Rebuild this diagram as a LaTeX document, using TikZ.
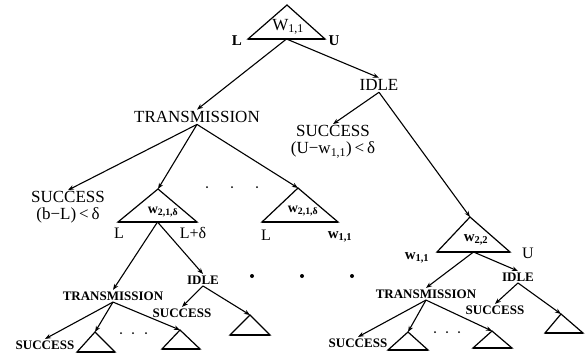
\documentclass[tikz,border=0pt]{standalone}
\usepackage{fontspec}
\setmainfont{Liberation Serif}
\usetikzlibrary{arrows.meta,calc}
\tikzset{
  big/.style={font=\fontsize{17}{18}\selectfont, inner sep=1.5pt},
  small/.style={font=\fontsize{13}{14}\selectfont\bfseries, inner sep=1.5pt},
  lbl/.style={font=\fontsize{16}{18}\selectfont, inner sep=0pt},
  blbl/.style={font=\fontsize{15}{17}\selectfont\bfseries, inner sep=0pt},
  trilbl/.style={font=\fontsize{14}{16}\selectfont\bfseries, inner sep=0pt},
  conn/.style={line width=1.1pt},
  arr/.style={conn, -{Stealth[length=6pt,width=4.5pt]}},
  tri/.style={line width=1.2pt, line join=miter},
  tribase/.style={line width=2pt},
  dot/.style={circle, fill=black, inner sep=0pt, minimum size=2pt},
  bigdot/.style={circle, fill=black, inner sep=0pt, minimum size=4pt},
}
\newcommand{\tridraw}[4]{%
  \coordinate (#1) at #2; \coordinate (#1l) at #3; \coordinate (#1r) at #4;
  \coordinate (#1b) at ($(#1l)!0.5!(#1r)$);
  \draw[tri] (#1) -- (#1l) -- (#1r) -- cycle;
  \draw[tribase] (#1l) -- (#1r);
}
\begin{document}
\begin{tikzpicture}[x=1pt,y=-1pt]
\useasboundingbox (0,0) rectangle (587,359);
% top triangle
\tridraw{tt}{(287,5)}{(248,39)}{(325,39)}
\node[lbl, font=\fontsize{17}{18}\selectfont] (ttw) at (288,27) {W\textsubscript{1,1}};
\node[blbl] (ttL) at (237,41) {L};
\node[blbl] (ttU) at (334,41) {U};
% level 1
\node[big] (trans) at (197,117) {TRANSMISSION};
\node[big] (idle) at (379,85) {IDLE};
\draw[arr] (ttb) -- (trans.north);
\draw[arr] (ttb) -- (idle.north);
% level 2
\node[big, inner sep=1pt] (suc1) at (68,197) {SUCCESS};
\node[big, inner sep=0pt] (suc1b) at (68,215) {(b−L)\,<\,δ};
\node[big, inner sep=1pt] (suc2) at (333,131) {SUCCESS};
\node[big, inner sep=0pt] (suc2b) at (333,150) {(U−w\textsubscript{1,1})\,<\,δ};
\tridraw{ta}{(158,189)}{(118,222)}{(197,222)}
\tridraw{tb}{(298,188)}{(262,222)}{(338,222)}
\tridraw{tc}{(470,217)}{(437,252)}{(510,252)}
\node[trilbl] (taw) at (163,212) {w\textsubscript{2,1,δ}};
\node[trilbl] (tbw) at (303,211) {w\textsubscript{2,1,δ}};
\node[trilbl, font=\fontsize{15}{17}\selectfont\bfseries] (tcw) at (476,240) {w\textsubscript{2,2}};
\node[lbl] (taL) at (119,233) {L};
\node[lbl] (taR) at (193,233) {L+δ};
\node[lbl] (tbL) at (266,235) {L};
\node[blbl] (tbR) at (340,237) {w\textsubscript{1,1}};
\node[blbl] (tcL) at (417,258) {w\textsubscript{1,1}};
\node[lbl] (tcR) at (528,253) {U};
\foreach \x [count=\i] in {207,232,257} \node[dot] (sd\i) at (\x,187) {};
\draw[arr] (trans.south) -- (suc1.north);
\draw[arr] (trans.south) -- (ta);
\draw[arr] (trans.south) -- (tb);
\draw[arr] (idle.south) -- (suc2.north);
\draw[arr] (idle.south) -- (tc);
\foreach \x [count=\i] in {252,302,352} \node[bigdot] (bd\i) at (\x,276) {};
% bottom left
\node[small] (transL) at (113,296) {TRANSMISSION};
\node[small] (idleL) at (203,280) {IDLE};
\node[small] (sucLa) at (182,313) {SUCCESS};
\node[small] (sucLb) at (45,345) {SUCCESS};
\tridraw{da}{(95,332)}{(77,352)}{(115,352)}
\tridraw{db}{(180,330)}{(162,349)}{(200,349)}
\tridraw{dc}{(250,315)}{(230,335)}{(270,335)}
\foreach \x [count=\i] in {121,133,146} \node[dot] (ld\i) at (\x,333) {};
\draw[arr] (tab) -- (transL.north);
\draw[arr] (tab) -- (idleL.north);
\draw[arr] (idleL.south) -- (sucLa.north);
\draw[arr] (idleL.south) -- (dc);
\draw[arr] (transL.south) -- (sucLb.north);
\draw[arr] (transL.south) -- (da);
\draw[arr] (transL.south) -- (db);
% bottom right
\node[small] (transR) at (426,294) {TRANSMISSION};
\node[small] (idleR) at (518,277) {IDLE};
\node[small] (sucRa) at (495,310) {SUCCESS};
\node[small] (sucRb) at (358,343) {SUCCESS};
\tridraw{ea}{(408,332)}{(388,350)}{(428,350)}
\tridraw{eb}{(492,331)}{(473,348)}{(512,348)}
\tridraw{ec}{(561,314)}{(545,333)}{(583,333)}
\foreach \x [count=\i] in {435,447,459} \node[dot] (rd\i) at (\x,332) {};
\draw[arr] (tcb) -- (transR.north);
\draw[arr] (tcb) -- (idleR.north);
\draw[arr] (idleR.south) -- (sucRa.north);
\draw[arr] (idleR.south) -- (ec);
\draw[arr] (transR.south) -- (sucRb.north);
\draw[arr] (transR.south) -- (ea);
\draw[arr] (transR.south) -- (eb);
\end{tikzpicture}
\end{document}
